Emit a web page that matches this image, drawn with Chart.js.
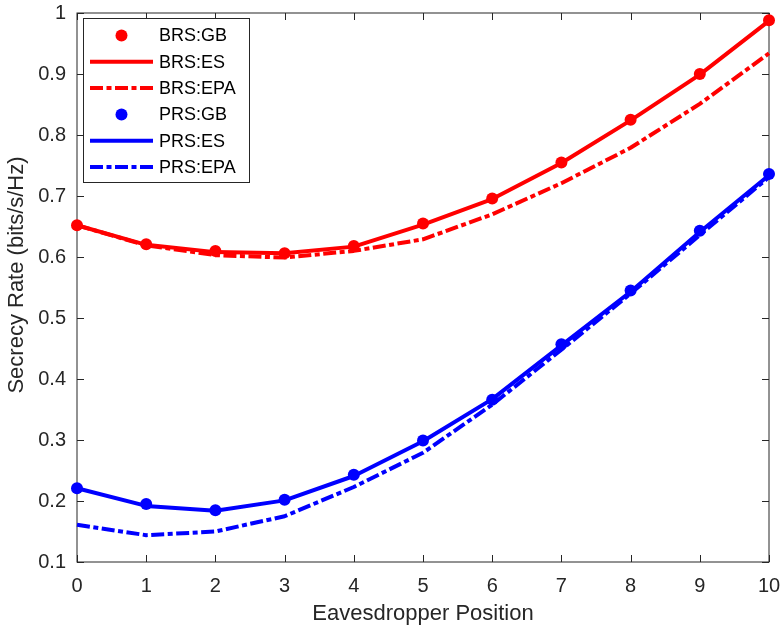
<!DOCTYPE html>
<html><head><meta charset="utf-8">
<script src="https://cdn.jsdelivr.net/npm/chart.js@4.4.0/dist/chart.umd.min.js"></script>
<style>html,body{margin:0;padding:0;background:#fff;}canvas{display:block;}</style>
</head><body>
<canvas id="c" width="784" height="631"></canvas>
<script>
const positions = [0, 1, 2, 3, 4, 5, 6, 7, 8, 9, 10];
const brsGB  = [0.652, 0.621, 0.610, 0.606, 0.618, 0.655, 0.696, 0.755, 0.825, 0.900, 0.988];
const brsES  = [0.652, 0.620, 0.608, 0.606, 0.617, 0.653, 0.695, 0.754, 0.824, 0.899, 0.987];
const brsEPA = [0.652, 0.619, 0.603, 0.599, 0.610, 0.629, 0.670, 0.721, 0.779, 0.851, 0.934];
const prsGB  = [0.221, 0.195, 0.185, 0.202, 0.243, 0.299, 0.366, 0.457, 0.545, 0.643, 0.736];
const prsES  = [0.221, 0.192, 0.184, 0.201, 0.241, 0.298, 0.367, 0.455, 0.543, 0.641, 0.734];
const prsEPA = [0.161, 0.144, 0.150, 0.175, 0.223, 0.279, 0.358, 0.448, 0.540, 0.636, 0.731];
const seriesLabels = ['BRS:GB', 'BRS:ES', 'BRS:EPA', 'PRS:GB', 'PRS:ES', 'PRS:EPA'];
const yTickLabels = ['0.1', '0.2', '0.3', '0.4', '0.5', '0.6', '0.7', '0.8', '0.9', '1'];
const xTickLabels = ['0', '1', '2', '3', '4', '5', '6', '7', '8', '9', '10'];
const xTitle = 'Eavesdropper Position';
const yTitle = 'Secrecy Rate (bits/s/Hz)';

const RED = '#ff0000', BLUE = '#0000ff', AX = '#262626';
const FONT = "'Liberation Sans', Arial, sans-serif";
const DASHDOT = [13, 3.5, 5, 3.5];
const LW = 4;

const pts = arr => positions.map((x, i) => ({x: x, y: arr[i]}));
function dots(label, arr, color) {
  return {label, data: pts(arr), showLine: false, pointRadius: 6, pointHoverRadius: 6,
    pointBackgroundColor: color, pointBorderWidth: 0, borderColor: color, backgroundColor: color,
    clip: false, _kind: 'dot'};
}
function line(label, arr, color, dashed) {
  return {label, data: pts(arr), borderColor: color, backgroundColor: color, borderWidth: LW,
    borderDash: dashed ? DASHDOT : [], pointRadius: 0, tension: 0, fill: false, clip: false,
    _kind: dashed ? 'dash' : 'solid', borderCapStyle: 'butt', borderJoinStyle: 'round'};
}

const boxPlugin = {
  id: 'box',
  beforeDatasetsDraw(chart) {
    const {ctx, chartArea: a} = chart;
    const xs = chart.scales.x, ys = chart.scales.y;
    ctx.save();
    ctx.strokeStyle = AX; ctx.lineWidth = 1;
    ctx.strokeRect(a.left, a.top, a.right - a.left, a.bottom - a.top);
    const tl = 7;
    ctx.beginPath();
    xs.ticks.forEach(t => {
      const px = Math.round(xs.getPixelForValue(t.value)) + 0.5;
      ctx.moveTo(px, a.bottom); ctx.lineTo(px, a.bottom - tl);
      ctx.moveTo(px, a.top); ctx.lineTo(px, a.top + tl);
    });
    ys.ticks.forEach(t => {
      const py = Math.round(ys.getPixelForValue(t.value)) + 0.5;
      ctx.moveTo(a.left, py); ctx.lineTo(a.left + tl, py);
      ctx.moveTo(a.right, py); ctx.lineTo(a.right - tl, py);
    });
    ctx.stroke();
    ctx.fillStyle = AX;
    ctx.font = '22px ' + FONT;
    ctx.textAlign = 'center'; ctx.textBaseline = 'middle';
    ctx.translate(17, 275); ctx.rotate(-Math.PI / 2);
    ctx.fillText(yTitle, 0, 0);
    ctx.restore();
  }
};

const legendPlugin = {
  id: 'mlegend',
  afterDraw(chart) {
    const {ctx} = chart;
    const x0 = 83, y0 = 18, w = 166, h = 164;
    ctx.save();
    ctx.fillStyle = '#fff';
    ctx.fillRect(x0, y0, w, h);
    ctx.strokeStyle = AX; ctx.lineWidth = 1;
    ctx.strokeRect(x0 + 0.5, y0 + 0.5, w, h);
    ctx.font = '18px ' + FONT;
    ctx.textAlign = 'left'; ctx.textBaseline = 'middle';
    chart.data.datasets.forEach((ds, i) => {
      const cy = 35.5 + i * 26.3;
      if (ds._kind === 'dot') {
        ctx.fillStyle = ds.pointBackgroundColor;
        ctx.beginPath(); ctx.arc(121.5, cy, 6, 0, Math.PI * 2); ctx.fill();
      } else {
        ctx.strokeStyle = ds.borderColor; ctx.lineWidth = LW;
        ctx.setLineDash(ds._kind === 'dash' ? DASHDOT : []);
        ctx.beginPath(); ctx.moveTo(90, cy); ctx.lineTo(153, cy); ctx.stroke();
        ctx.setLineDash([]);
      }
      ctx.fillStyle = '#000';
      ctx.fillText(ds.label, 159, cy + 1);
    });
    ctx.restore();
  }
};

Chart.defaults.font.family = FONT;
new Chart(document.getElementById('c'), {
  type: 'line',
  data: {datasets: [
    dots(seriesLabels[0], brsGB, RED),
    line(seriesLabels[1], brsES, RED, false),
    line(seriesLabels[2], brsEPA, RED, true),
    dots(seriesLabels[3], prsGB, BLUE),
    line(seriesLabels[4], prsES, BLUE, false),
    line(seriesLabels[5], prsEPA, BLUE, true)
  ]},
  options: {
    responsive: false, animation: false, devicePixelRatio: 1,
    layout: {padding: {left: 0, top: 13, right: 15, bottom: 0}},
    plugins: {legend: {display: false}, tooltip: {enabled: false}},
    scales: {
      x: {type: 'linear', min: 0, max: 10,
        afterFit: s => { s.height = 69; s.paddingLeft = 0; s.paddingRight = 0; },
        ticks: {stepSize: 1, color: AX, font: {size: 20}, padding: 12, maxRotation: 0,
          callback: (v, i) => xTickLabels[i]},
        grid: {display: false, drawTicks: false}, border: {display: false},
        title: {display: true, text: xTitle, color: AX, font: {size: 22}, padding: {top: 0, bottom: 4}}},
      y: {type: 'linear', min: 0.1, max: 1,
        afterFit: s => { s.width = 77; s.paddingTop = 0; s.paddingBottom = 0; },
        ticks: {stepSize: 0.1, color: AX, font: {size: 20}, padding: 11,
          callback: (v, i) => yTickLabels[i]},
        grid: {display: false, drawTicks: false}, border: {display: false}}
    }
  },
  plugins: [boxPlugin, legendPlugin]
});
</script>
</body></html>
